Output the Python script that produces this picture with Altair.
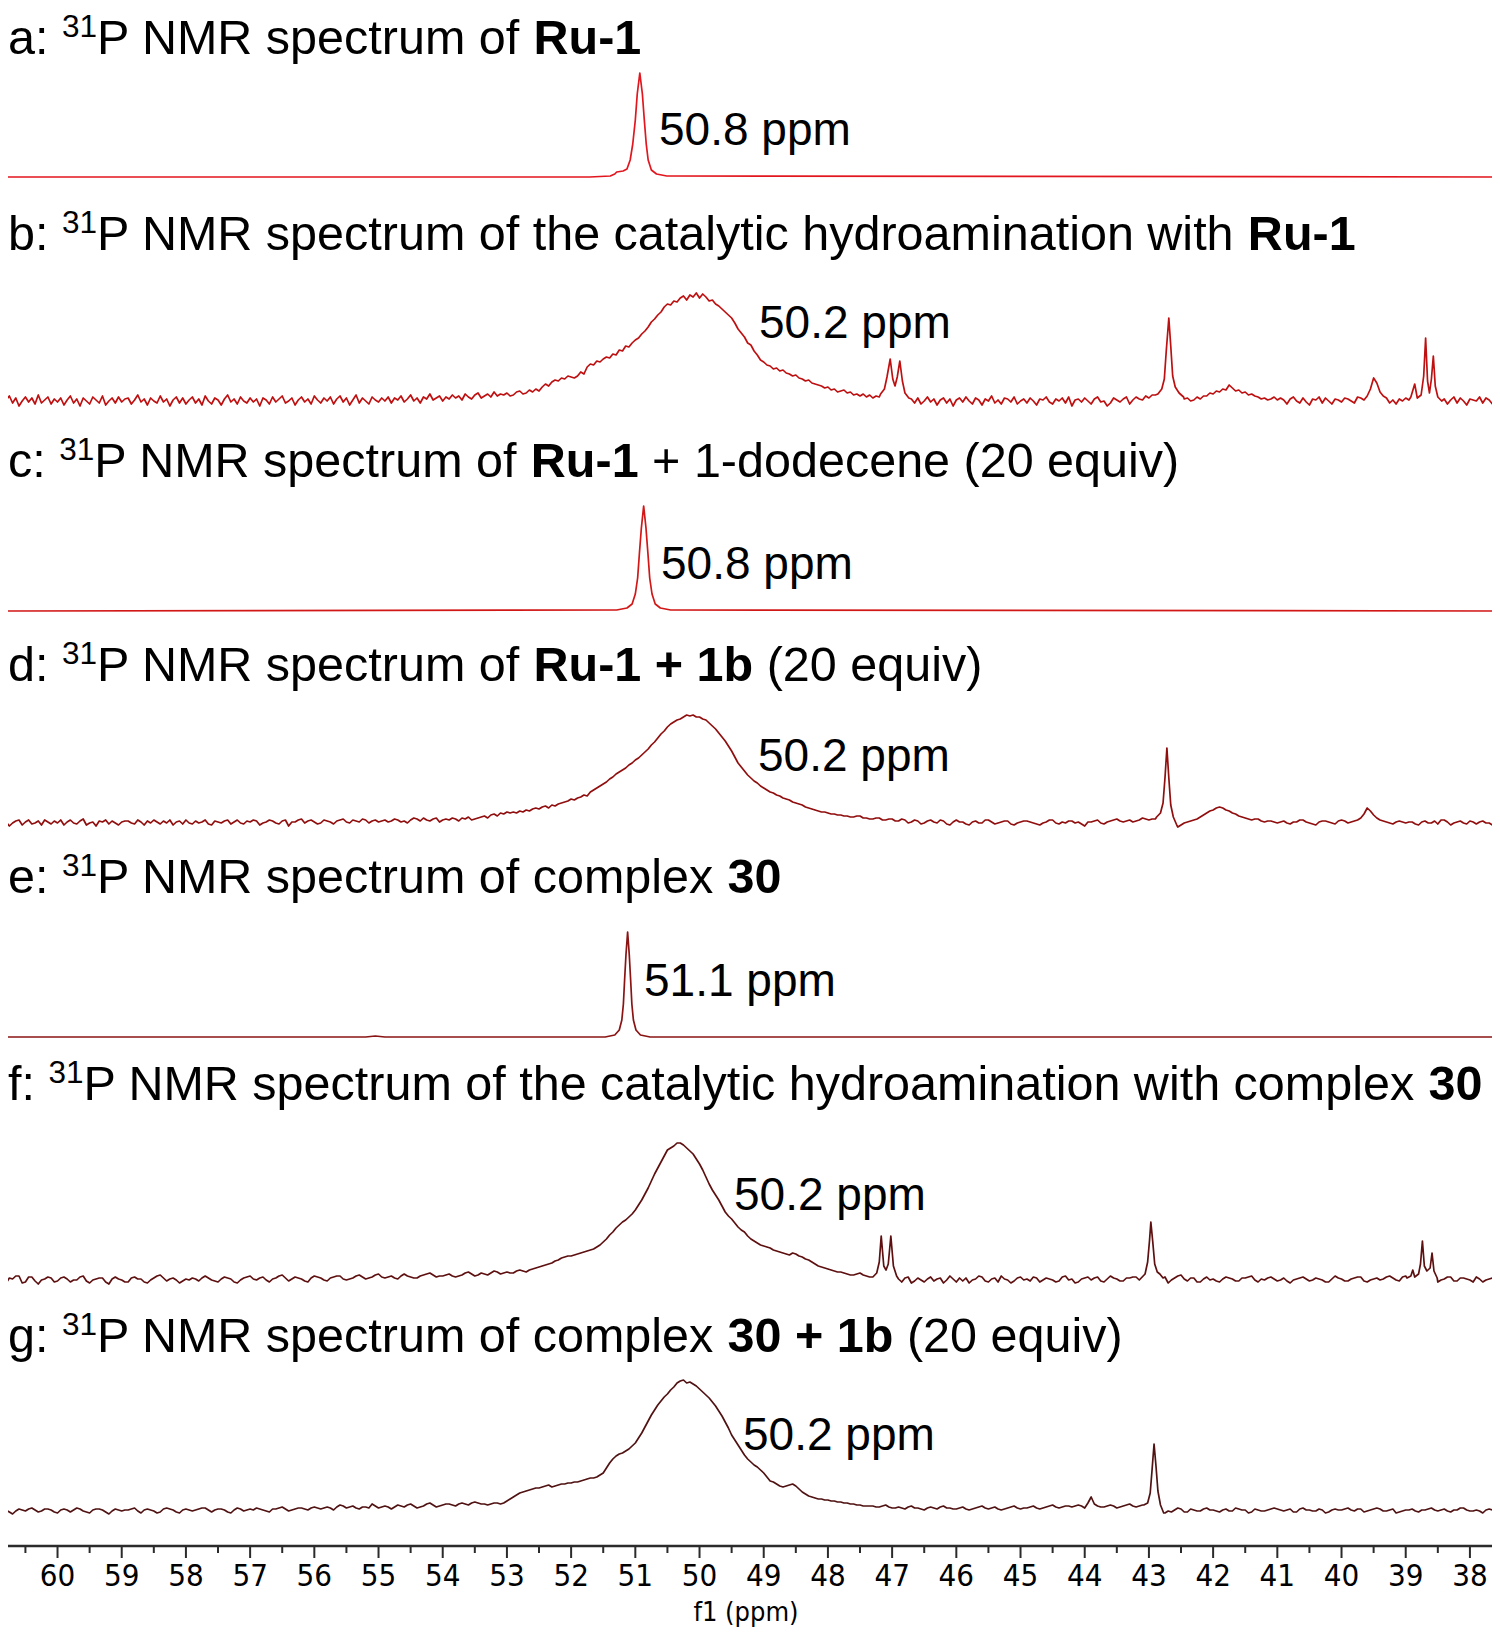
import altair as alt
import pandas as pd

# ------------------------------------------------------------------
# DATA (heights above each trace's own baseline)
# ------------------------------------------------------------------
KEYS = ["a", "b", "c", "d", "e", "f", "g"]

# sampling grid for the noisy traces: 60.9 ppm down to 37.5 ppm, 0.05 ppm apart
GRID_START = 60.9
GRID_STEP = 0.05
GRID_COUNT = 469

# a: Ru-1
A_PPM = [60.9, 51.71, 51.39, 51.32, 51.29, 51.19, 51.13, 51.08, 51.04, 51.0,
         50.97, 50.93, 50.89, 50.86, 50.83, 50.80, 50.75, 50.67, 50.51, 37.5]
A_H = [0, 0, 1, 3, 5, 6, 8, 17, 33, 57, 83, 104, 83, 57, 33, 17, 7, 3, 1, 0]

# c: Ru-1 + 1-dodecene
C_PPM = [60.9, 51.29, 51.13, 51.05, 51.0, 50.964, 50.937, 50.906, 50.87,
         50.834, 50.803, 50.776, 50.74, 50.69, 50.61, 50.45, 37.5]
C_H = [0, 1, 3, 7, 17, 33, 57, 83, 105, 83, 57, 33, 17, 7, 3, 1, 0]

# e: complex 30
E_PPM = [60.9, 55.2, 55.05, 54.9, 51.47, 51.32, 51.25, 51.21, 51.186, 51.167,
         51.145, 51.12, 51.095, 51.073, 51.054, 51.03, 50.99, 50.92, 50.77, 37.5]
E_H = [0, 0, 1, 0, 0, 2, 7, 17, 33, 57, 83, 105, 83, 57, 33, 17, 7, 2, 0, 0]

# b: catalytic hydroamination with Ru-1 (one row per ppm unit)
B_GRID = [
    2, -4, 1, 5, -2, 3, -5, 0, 4, -1, 3, -3, 6, -2, 1, 4, -3, 2, -1, 3,
    -4, 1, 5, -2, 2, -5, 3, 0, -3, 4, 1, -2, 5, -4, 0, 3, -2, 4, -1, 2,
    3, -3, 1, 6, -1, 2, -4, 3, 0, -2, 5, -1, 2, -5, 1, 4, -2, 3, -3, 1,
    4, -2, 2, -4, 5, 0, -3, 3, 1, -4, 2, 6, -1, 2, -3, 4, 0, -2, 3, -1,
    2, -5, 3, 1, -3, 4, -1, 2, 5, -2, 0, 3, -4, 1, 4, -1, 2, -3, 5, 1,
    -2, 3, 0, 4, -3, 2, 5, -1, 3, -4, 1, 6, -2, 3, 0, -3, 4, 1, -1, 3,
    0, 4, -2, 3, 1, 5, -1, 2, 6, 0, 3, -2, 4, 2, 7, 1, 3, 5, 0, 4,
    2, 6, 3, 5, 1, 7, 4, 2, 6, 8, 3, 5, 7, 4, 9, 5, 7, 6, 8, 5,
    6, 9, 10, 7, 8, 11, 9, 12, 10, 14, 17, 15, 19, 21, 20, 23, 22, 25, 24, 23,
    25, 29, 27, 34, 37, 36, 40, 39, 42, 44, 43, 47, 46, 51, 50, 55, 54, 58, 61, 63,
    67, 70, 74, 79, 82, 86, 89, 94, 97, 96, 100, 99, 103, 105, 101, 106, 104, 108, 103, 107,
    104, 100, 101, 97, 95, 92, 89, 86, 83, 78, 72, 68, 64, 58, 56, 50, 46, 41, 39, 36,
    35, 32, 33, 30, 31, 28, 27, 25, 26, 23, 22, 20, 21, 18, 17, 16, 15, 13, 14, 11,
    12, 9, 10, 11, 8, 9, 6, 7, 5, 7, 4, 6, 3, 5, 4, 6, 12, 30, 40, 20,
    30, 20, 10, 5, 2, -2, 3, -3, 0, 4, -1, 2, -4, 1, 3, -2, 2, -5, 1, 3,
    -1, 4, 0, -3, 3, 1, -4, 2, 0, 5, -2, 1, -3, 3, 2, -1, 4, -3, 0, 2,
    -2, 3, 0, -4, 2, 1, 4, -1, -3, 2, 0, 3, -2, 4, -5, 1, 2, -1, 3, 0,
    -3, 2, 4, -1, 0, -5, -2, 3, 1, -1, 2, 4, -3, 1, 4, 2, 1, 5, 3, 6,
    6, 9, 12, 30, 80, 40, 14, 8, 5, 2, 3, 0, 1, 4, 2, 5, 5, 8, 7, 10,
    9, 12, 11, 16, 13, 10, 11, 8, 9, 6, 7, 5, 4, 2, 3, 1, 2, 4, 1, 3,
    1, -3, 2, 4, 0, -2, 3, -1, -4, 2, 1, 4, -2, 3, 0, -3, 2, 1, -1, 3,
    2, 0, -2, 4, 3, 1, 5, 12, 23, 18, 9, 5, 3, -2, 1, -3, 2, 0, 3, 1,
    3, 17, 5, 20, 63, 45, 20, 40, 10, 4, 2, -3, 1, 4, -2, 3, 0, -4, 2, 1,
    0, 4, -2, 3, 1, -3, 2, -1, 2,
]
B_PEAK_PPM = [
    [47.18, 47.12, 47.08, 47.03, 46.99, 46.955, 46.92, 46.88, 46.84, 46.80, 46.74],
    [42.86, 42.80, 42.76, 42.73, 42.69, 42.66, 42.63, 42.59, 42.53, 42.46],
    [38.92, 38.86, 38.82, 38.76, 38.72, 38.69, 38.66, 38.63, 38.60, 38.57, 38.54, 38.50, 38.44],
]
B_PEAK_H = [
    [7, 12, 24, 42, 22, 15, 24, 40, 20, 8, 3],
    [7, 12, 22, 50, 83, 55, 25, 14, 8, 4],
    [4, 17, 3, 6, 25, 63, 20, 8, 22, 45, 15, 4, 0],
]

# d: Ru-1 + 1b
D_GRID = [
    -1, 2, 1, -3, 0, 2, 3, -2, 1, 3, -1, 0, 2, -2, 3, 1, -1, 2, 0, 3,
    -2, 1, 3, 0, -1, 2, 4, -2, 0, 1, -3, 2, 1, 3, -1, 2, 0, -2, 1, 2,
    2, 0, -1, 3, 1, -2, 2, 0, 3, 1, -1, 2, 0, 3, -2, 1, 2, -1, 3, 0,
    -1, 2, 0, 1, 3, -1, -2, 2, 1, 0, 2, 3, -1, 1, 3, 0, -1, 2, 1, 3,
    2, -2, 0, 1, 3, 2, 0, -1, 2, 3, -3, 1, 1, 3, 4, 0, 2, 3, 1, -1,
    0, 3, 2, 1, -1, 2, 3, 4, 1, 0, 3, 2, 1, 4, 3, 0, 2, 3, 1, 2,
    3, 1, 2, 4, 3, 1, 2, 0, 3, 5, 4, 2, 5, 3, 2, 4, 5, 1, 3, 4,
    3, 5, 4, 2, 5, 4, 6, 3, 4, 5, 6, 7, 5, 8, 9, 7, 10, 9, 11, 10,
    11, 10, 12, 11, 13, 12, 14, 15, 14, 16, 17, 15, 18, 17, 19, 20, 21, 22, 24, 23,
    25, 26, 28, 27, 31, 33, 35, 37, 39, 41, 44, 46, 49, 51, 53, 55, 58, 60, 63, 65,
    68, 71, 74, 78, 81, 85, 89, 92, 96, 99, 101, 103, 104, 106, 108, 107, 108, 106, 106, 104,
    103, 100, 97, 94, 90, 86, 82, 77, 72, 66, 60, 56, 52, 48, 45, 42, 40, 37, 35, 33,
    31, 30, 28, 27, 25, 24, 23, 21, 20, 19, 18, 16, 15, 14, 13, 12, 11, 11, 10, 9,
    9, 8, 8, 7, 7, 6, 6, 7, 7, 5, 5, 4, 4, 5, 5, 3, 3, 4, 4, 2,
    2, 4, 3, 0, 1, 3, 2, -1, 0, 2, 3, 1, 0, 3, 2, -1, -2, 1, 3, 1,
    1, -1, -2, 1, 2, 0, 0, 3, 3, 1, -1, 0, 1, 2, 2, -1, -2, 0, 1, 2,
    2, 1, 0, -1, -2, 0, 1, 3, 3, 0, -1, 1, 0, 2, 2, 0, 1, -1, -3, 1,
    1, 2, 3, 0, -1, 1, 2, 3, 4, 2, 1, 2, 3, 1, 2, 3, 5, 4, 3, 4,
    4, 5, 6, 20, 70, 40, 8, -4, -2, 0, 1, 2, 3, 4, 6, 8, 10, 12, 13, 15,
    16, 15, 13, 12, 10, 9, 7, 6, 5, 4, 3, 4, 4, 2, 1, 2, 2, 1, 0, 1,
    2, 0, -1, 1, 1, 3, 3, 1, 0, -1, -2, 1, 2, 2, 1, 0, -1, 2, 3, 2,
    0, 1, 2, 3, 5, 9, 15, 12, 8, 5, 3, 2, 1, 0, -1, 1, 2, 1, 0, 1,
    1, -1, -2, 1, 2, 0, 0, 2, -1, 3, 3, 1, -2, 0, 1, 2, 0, -1, 2, 1,
    -1, 1, 2, 0, 0, -2, -1, 1, 1,
]
D_PEAK_PPM = [[42.88, 42.82, 42.78, 42.75, 42.72, 42.69, 42.66, 42.62, 42.56]]
D_PEAK_H = [[6, 10, 20, 45, 75, 45, 18, 6, -3]]

# f: catalytic hydroamination with complex 30
F_GRID = [
    2, -2, -3, 2, 1, 4, 4, -3, -2, 3, 3, -1, -4, 0, 1, 3, 2, -2, -1, 2,
    3, 1, -2, 0, 0, 3, 4, -1, -3, 0, 1, 2, 2, -2, -4, 1, 3, 1, 0, -2,
    -2, 2, 3, 1, 1, -2, -3, 0, 2, 4, 5, 2, -1, 1, 2, 0, -3, -1, 1, 0,
    2, 1, -1, 2, 4, 2, 0, -1, -2, 1, 3, 2, 1, -2, -3, 0, 2, 3, 4, 1,
    0, 2, 3, 0, -2, 1, 2, 4, 5, 2, -1, 1, 3, 2, 1, -1, -2, 2, 4, 3,
    2, 0, -1, 2, 3, 4, 4, 1, 0, 1, 2, 4, 5, 3, 1, 2, 3, 5, 6, 3,
    2, 3, 4, 2, 1, 4, 6, 4, 3, 2, 2, 4, 5, 6, 7, 5, 3, 4, 4, 5,
    6, 4, 3, 4, 5, 7, 8, 6, 4, 5, 7, 6, 5, 7, 9, 8, 6, 7, 8, 7,
    7, 9, 10, 9, 8, 10, 11, 12, 13, 14, 15, 16, 17, 19, 20, 22, 23, 24, 24, 25,
    26, 27, 28, 29, 30, 31, 33, 35, 38, 41, 45, 48, 52, 55, 58, 60, 63, 66, 70, 75,
    80, 86, 92, 99, 106, 112, 118, 124, 130, 132, 134, 137, 137, 135, 132, 129, 126, 121, 116, 110,
    103, 96, 90, 85, 80, 74, 68, 64, 61, 57, 53, 50, 48, 44, 41, 39, 37, 35, 34, 33,
    32, 30, 29, 28, 27, 26, 25, 27, 26, 24, 23, 21, 20, 18, 16, 14, 13, 12, 11, 10,
    9, 8, 8, 7, 6, 5, 5, 6, 7, 5, 4, 3, 3, 7, 18, 30, 10, 20, 30, 10,
    1, -2, 2, 3, -3, -1, 2, 0, -2, 1, 3, -1, 1, 2, -3, 0, 4, 1, -2, 2,
    -1, 2, -3, 0, 1, 4, 3, -1, -2, 1, 2, -2, 4, 1, 0, -3, -1, 2, 3, 0,
    1, -1, 3, 2, -2, 0, 2, 1, 0, -2, -1, 3, 4, 0, 1, -3, -2, 1, 2, 3,
    0, 2, 3, -1, -2, 1, 4, 2, 1, -1, -1, 2, 2, 3, 3, 0, 0, 2, 1, 2,
    50, 20, 8, 3, -3, 0, 2, 4, 5, 1, -1, 2, 2, -2, -2, 1, 3, 0, 1, -1,
    -2, 1, 3, 2, 1, -1, -1, 2, 2, 3, 4, 0, -2, 1, 0, 2, 3, 1, -1, 0,
    2, -1, -3, 0, 1, 2, 3, 1, -1, 0, 2, 1, 0, -2, -2, 1, 4, 2, 1, -1,
    -1, 1, 2, 3, 3, -1, -2, 0, 1, 2, 0, 1, 3, 4, 2, 0, -1, 3, 4, 2,
    8, 10, 39, 30, 27, 10, 3, 2, -2, 0, 1, 3, 3, -1, -1, 2, 2, 1, 0, -2,
    3, 1, -2, 0, 1, 2, 2, -1, -1,
]
F_PEAK_PPM = [
    [47.30, 47.24, 47.20, 47.17, 47.13, 47.095, 47.06, 47.02, 46.98, 46.93],
    [43.12, 43.06, 43.02, 42.99, 42.97, 42.94, 42.91, 42.87, 42.83, 42.78],
    [38.98, 38.92, 38.89, 38.86, 38.80, 38.77, 38.74, 38.71, 38.67, 38.62, 38.59, 38.56, 38.51],
]
F_PEAK_H = [
    [3, 7, 18, 44, 14, 10, 16, 44, 14, 4],
    [2, 6, 18, 40, 58, 38, 16, 8, 6, 2],
    [2, 4, 10, 3, 6, 16, 39, 14, 9, 12, 27, 9, 2],
]

# g: complex 30 + 1b
G_GRID = [
    -2, 0, 1, -1, -3, 0, 2, 1, 0, 2, 3, 1, -1, 0, 2, 2, 1, -1, -2, 1,
    2, 1, -1, 1, 3, 2, 0, -1, -2, 1, 2, 2, 1, -1, -3, 0, 2, 1, 0, 1,
    1, 2, 3, 0, -2, 1, 2, 1, 0, -2, -1, 2, 3, 2, 1, -1, -2, 1, 2, 1,
    0, 1, 2, 3, 3, 1, -1, 1, 2, 2, 1, -1, -2, 1, 3, 2, 0, 1, 2, 1,
    3, 2, 1, 0, -1, 2, 2, 3, 4, 2, 0, 1, 2, 3, 3, 2, 1, 3, 4, 3,
    2, 3, 4, 3, 1, 4, 6, 5, 3, 4, 5, 3, 2, 4, 4, 3, 7, 5, 3, 4,
    5, 4, 2, 4, 6, 5, 4, 6, 7, 5, 3, 4, 5, 7, 8, 6, 4, 5, 6, 7,
    7, 6, 5, 7, 8, 7, 6, 8, 9, 8, 7, 7, 6, 7, 8, 8, 7, 8, 10, 12,
    14, 16, 18, 19, 20, 21, 22, 23, 23, 24, 25, 26, 24, 25, 26, 27, 27, 28, 28, 29,
    29, 30, 31, 32, 33, 33, 34, 36, 38, 43, 48, 52, 55, 57, 58, 60, 62, 65, 68, 73,
    78, 84, 90, 96, 101, 106, 110, 114, 117, 121, 124, 128, 130, 131, 128, 129, 127, 125, 122, 119,
    116, 113, 109, 105, 100, 95, 89, 83, 76, 71, 66, 61, 56, 52, 49, 46, 44, 41, 38, 34,
    30, 29, 27, 25, 24, 25, 26, 27, 25, 22, 19, 17, 15, 14, 13, 12, 12, 11, 11, 10,
    10, 9, 9, 8, 8, 7, 7, 6, 6, 5, 5, 5, 5, 4, 4, 5, 6, 4, 3, 3,
    4, 3, 2, 4, 5, 3, 3, 2, 1, 3, 4, 3, 2, 4, 5, 3, 3, 2, 2, 3,
    4, 2, 1, 2, 3, 4, 5, 3, 2, 3, 4, 2, 1, 2, 3, 4, 5, 3, 2, 3,
    3, 4, 5, 3, 2, 3, 4, 5, 6, 4, 3, 4, 5, 5, 4, 5, 6, 5, 3, 8,
    14, 7, 5, 4, 4, 5, 6, 5, 3, 4, 5, 6, 7, 5, 4, 5, 6, 7, 8, 7,
    60, 40, 8, -2, 0, -1, 1, 3, 2, -1, -1, 2, 1, 0, 0, 2, 3, 1, 1, 0,
    -1, 1, 2, 0, 0, 3, 2, 1, 1, -2, -1, 2, 1, 0, 0, 1, 2, 3, 2, 1,
    0, 1, 2, -1, -1, 2, 3, 1, 1, 0, 0, 2, 1, -2, -1, 1, 2, 1, 1, 2,
    3, 1, 0, 2, 2, -1, 0, 1, 2, 3, 2, 0, 0, 1, 2, -2, -1, 0, 1, 1,
    2, 0, -1, 1, 1, 2, 3, 1, 0, 1, 2, 0, -1, 1, 1, 3, 3, 1, 0, 0,
    1, 0, -2, 1, 2, 1, 0, -1, -1,
]
G_PEAK_PPM = [[43.08, 43.02, 42.98, 42.95, 42.92, 42.89, 42.86, 42.82, 42.77]]
G_PEAK_H = [[6, 8, 18, 42, 67, 45, 20, 6, -2]]

# text
TITLE_SEGMENTS = {
    "a": [("a: ", "n"), ("31", "sup"), ("P NMR spectrum of ", "n"), ("Ru-1", "b")],
    "b": [("b: ", "n"), ("31", "sup"), ("P NMR spectrum of the catalytic hydroamination with ", "n"), ("Ru-1", "b")],
    "c": [("c: ", "n"), ("31", "sup"), ("P NMR spectrum of ", "n"), ("Ru-1", "b"), (" + 1-dodecene (20 equiv)", "n")],
    "d": [("d: ", "n"), ("31", "sup"), ("P NMR spectrum of ", "n"), ("Ru-1 + 1b", "b"), (" (20 equiv)", "n")],
    "e": [("e: ", "n"), ("31", "sup"), ("P NMR spectrum of complex ", "n"), ("30", "b")],
    "f": [("f: ", "n"), ("31", "sup"), ("P NMR spectrum of the catalytic hydroamination with complex ", "n"), ("30", "b")],
    "g": [("g: ", "n"), ("31", "sup"), ("P NMR spectrum of complex ", "n"), ("30 + 1b", "b"), (" (20 equiv)", "n")],
}
PEAK_LABELS = ["50.8 ppm", "50.2 ppm", "50.8 ppm", "50.2 ppm", "51.1 ppm", "50.2 ppm", "50.2 ppm"]
MAJOR_TICKS = [60, 59, 58, 57, 56, 55, 54, 53, 52, 51, 50, 49, 48, 47, 46, 45, 44, 43, 42, 41, 40, 39, 38]
MINOR_TICKS = [60.5, 59.5, 58.5, 57.5, 56.5, 55.5, 54.5, 53.5, 52.5, 51.5, 50.5, 49.5, 48.5,
               47.5, 46.5, 45.5, 44.5, 43.5, 42.5, 41.5, 40.5, 39.5, 38.5]
AXIS_TITLE = "f1 (ppm)"

# ------------------------------------------------------------------
# LAYOUT / STYLE (page-pixel geometry of the reference)
# ------------------------------------------------------------------
REF_W, REF_H = 1500, 1636
PAGE_MARGIN = 8
PX_PER_PPM = 64.2
PPM_AT_LEFT = 60.896


def ppm_of(xref):
    return PPM_AT_LEFT - xref / PX_PER_PPM


PPM_AT_RIGHT = ppm_of(REF_W)

BASELINE = {"a": 177, "b": 401, "c": 611, "d": 823, "e": 1037, "f": 1280, "g": 1511}
COLORS = {"a": "#E2161E", "b": "#BE1010", "c": "#D21717", "d": "#900E0E",
          "e": "#8A1414", "f": "#5E0F0F", "g": "#501212"}
TITLE_X0 = 8
TITLE_BASE = {"a": 54, "b": 250, "c": 477, "d": 681, "e": 893, "f": 1100, "g": 1352}
LABEL_POS = {"a": (659, 145), "b": (759, 338), "c": (661, 579), "d": (758, 771),
             "e": (644, 996), "f": (734, 1210), "g": (743, 1450)}
TITLE_F = 48.5
SUP_F = 31.5
SUP_RAISE = 17
LABEL_F = 46.0
AXIS_R = 1546
MAJOR_LEN = 12
MINOR_LEN = 7
TICK_LABEL_R = 1577
AXIS_TITLE_POS = (746, 1613)
TICK_FONT = "DejaVu Sans Condensed, Liberation Sans Narrow, sans-serif"
TEXT_FONT = "Liberation Sans, Arial, sans-serif"

# Arial advance widths (1/1000 em)
REG = {" ": 278, "(": 333, ")": 333, "+": 584, "-": 333, ".": 278, ":": 278,
       "P": 667, "N": 722, "M": 833, "R": 722,
       "a": 556, "b": 556, "c": 500, "d": 556, "e": 556, "f": 278, "g": 556, "h": 556,
       "i": 222, "l": 222, "m": 833, "n": 556, "o": 556, "p": 556, "q": 556, "r": 333,
       "s": 500, "t": 278, "u": 556, "v": 500, "w": 722, "x": 500, "y": 500}
for ch in "0123456789":
    REG[ch] = 556
BOLD = {" ": 278, "+": 584, "-": 333, "R": 722, "u": 611, "b": 611}
for ch in "0123456789":
    BOLD[ch] = 556


def text_width(s, style):
    table = BOLD if style == "b" else REG
    size = SUP_F if style == "sup" else TITLE_F
    return sum(table[c] for c in s) * size / 1000.0


# ------------------------------------------------------------------
# build tables
# ------------------------------------------------------------------
grid_ppm = [round(GRID_START - GRID_STEP * i, 2) for i in range(GRID_COUNT)]


def merge(grid_h, peak_ppm, peak_h):
    pts = []
    for p, h in zip(grid_ppm, grid_h):
        if any(min(g) <= p <= max(g) for g in peak_ppm):
            continue
        pts.append((p, h))
    for gp, gh in zip(peak_ppm, peak_h):
        pts.extend(zip(gp, gh))
    return sorted(pts, key=lambda t: -t[0])


series = {
    "a": list(zip(A_PPM, A_H)),
    "b": merge(B_GRID, B_PEAK_PPM, B_PEAK_H),
    "c": list(zip(C_PPM, C_H)),
    "d": merge(D_GRID, D_PEAK_PPM, D_PEAK_H),
    "e": list(zip(E_PPM, E_H)),
    "f": merge(F_GRID, F_PEAK_PPM, F_PEAK_H),
    "g": merge(G_GRID, G_PEAK_PPM, G_PEAK_H),
}
rows = []
for k in KEYS:
    for p, h in series[k]:
        rows.append({"spectrum": k, "ppm": p, "r": BASELINE[k] - h})
spec_df = pd.DataFrame(rows)

title_rows = []
for k in KEYS:
    x = float(TITLE_X0)
    for txt, style in TITLE_SEGMENTS[k]:
        lead = len(txt) - len(txt.lstrip(" "))
        xd = x + text_width(" " * lead, style)
        r = TITLE_BASE[k] - (SUP_RAISE if style == "sup" else 0)
        title_rows.append({"ppm": ppm_of(xd), "r": r, "text": txt.strip(), "style": style})
        x += text_width(txt, style)
title_df = pd.DataFrame(title_rows)

label_df = pd.DataFrame([{"ppm": ppm_of(LABEL_POS[k][0]), "r": LABEL_POS[k][1], "text": t}
                         for k, t in zip(KEYS, PEAK_LABELS)])

xs = alt.Scale(domain=[PPM_AT_RIGHT, PPM_AT_LEFT], reverse=True, nice=False, zero=False)
ys = alt.Scale(domain=[0, REF_H], reverse=True, nice=False, zero=False)
X = alt.X("ppm:Q", scale=xs, axis=None)
Y = alt.Y("r:Q", scale=ys, axis=None)

lines = alt.Chart(spec_df).mark_line(strokeWidth=1.7, strokeJoin="round").encode(
    x=X, y=Y,
    color=alt.Color("spectrum:N", scale=alt.Scale(domain=KEYS, range=[COLORS[k] for k in KEYS]), legend=None),
    order=alt.Order("ppm:Q"),
)


def text_layer(df, **kw):
    return alt.Chart(df).mark_text(align="left", baseline="alphabetic", color="black", **kw).encode(
        x=X, y=Y, text="text:N")


t_norm = text_layer(title_df[title_df["style"] == "n"], font=TEXT_FONT, fontSize=TITLE_F)
t_bold = text_layer(title_df[title_df["style"] == "b"], font=TEXT_FONT, fontSize=TITLE_F, fontWeight="bold")
t_sup = text_layer(title_df[title_df["style"] == "sup"], font=TEXT_FONT, fontSize=SUP_F)
t_lab = text_layer(label_df, font=TEXT_FONT, fontSize=LABEL_F)

axis_df = pd.DataFrame({"ppm": [PPM_AT_LEFT], "ppm2": [PPM_AT_RIGHT], "r": [AXIS_R]})
axis_line = alt.Chart(axis_df).mark_rule(strokeWidth=2.5, color="#2b2b2b").encode(x=X, x2="ppm2:Q", y=Y)

maj_df = pd.DataFrame({"ppm": MAJOR_TICKS, "r": AXIS_R, "r2": AXIS_R + MAJOR_LEN})
min_df = pd.DataFrame({"ppm": MINOR_TICKS, "r": AXIS_R, "r2": AXIS_R + MINOR_LEN})
maj = alt.Chart(maj_df).mark_rule(strokeWidth=2, color="#2b2b2b").encode(x=X, y=Y, y2="r2:Q")
mnr = alt.Chart(min_df).mark_rule(strokeWidth=2, color="#2b2b2b").encode(x=X, y=Y, y2="r2:Q")

tl_df = pd.DataFrame({"ppm": MAJOR_TICKS, "r": TICK_LABEL_R, "text": [str(v) for v in MAJOR_TICKS]})
tick_labels = alt.Chart(tl_df).mark_text(align="center", baseline="middle", font=TICK_FONT,
                                         fontSize=31, color="black").encode(x=X, y=Y, text="text:N")
at_df = pd.DataFrame({"ppm": [ppm_of(AXIS_TITLE_POS[0])], "r": [AXIS_TITLE_POS[1]], "text": [AXIS_TITLE]})
axis_title = alt.Chart(at_df).mark_text(align="center", baseline="middle", font=TICK_FONT,
                                        fontSize=27, color="black").encode(x=X, y=Y, text="text:N")

# the plot area spans the whole reference page; negative padding cancels the page margin
chart = alt.layer(lines, t_norm, t_bold, t_sup, t_lab, axis_line, maj, mnr, tick_labels, axis_title).properties(
    width=REF_W, height=REF_H,
    padding={"left": -PAGE_MARGIN, "top": -PAGE_MARGIN, "right": -PAGE_MARGIN, "bottom": -PAGE_MARGIN},
    autosize=alt.AutoSizeParams(type="none"),
).configure_view(stroke=None)

chart.save("out.html", embed_options={"renderer": "svg", "actions": False})
